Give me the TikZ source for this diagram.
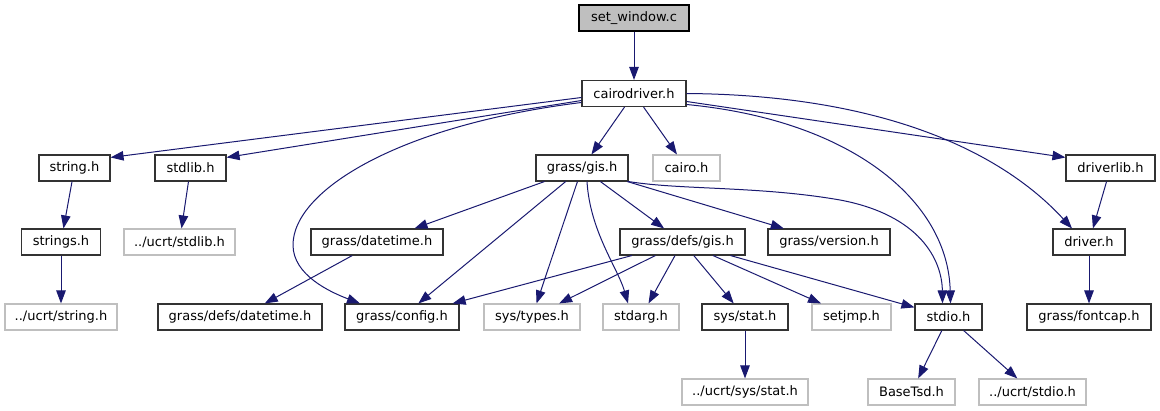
\documentclass[tikz,border=0pt]{standalone}
\usepackage{fontspec}
\setmainfont{DejaVu Sans}
\usepackage{tikz}
\usetikzlibrary{arrows.meta, positioning, calc}
\definecolor{edgeblue}{HTML}{191970}
\definecolor{sysgray}{HTML}{BFBFBF}
\tikzset{
  header/.style = {draw=black!80, line width=1.1pt, fill=white, inner sep=0pt,
                   minimum height=26pt, font=\fontsize{13}{15}\selectfont},
  extheader/.style = {header, draw=sysgray},
  srcfile/.style = {header, draw=black, fill=sysgray},
  dep/.style = {draw=edgeblue, line width=1pt, -{Triangle[length=13pt, width=9.5pt]}, edgeblue}
}

\begin{document}
\begin{tikzpicture}[x=1pt, y=-1pt]

\useasboundingbox (0, 0) rectangle (1160, 411);

% Top
\node [srcfile, minimum width=110] (win) at (634, 18) {set\_window.c};
\node [header, minimum width=104] (cdrv) at (634, 93.5) {cairodriver.h};

% Row 3
\node [header, minimum width=71] (str) at (74.5, 168) {string.h};
\node [header, minimum width=71] (stdl) at (190.5, 168) {stdlib.h};
\node [header, minimum width=92] (gis) at (582, 168) {grass/gis.h};
\node [extheader, minimum width=67] (cairo) at (686.5, 168) {cairo.h};
\node [header, minimum width=89] (dlib) at (1110.5, 168) {driverlib.h};

% Row 4
\node [header, minimum width=79] (strs) at (61, 242) {strings.h};
\node [extheader, minimum width=111] (ustdl) at (179.5, 242) {../ucrt/stdlib.h};
\node [header, minimum width=132] (dt) at (377, 242) {grass/datetime.h};
\node [header, minimum width=125] (dgis) at (682.5, 242) {grass/defs/gis.h};
\node [header, minimum width=122] (ver) at (829, 242) {grass/version.h};
\node [header, minimum width=72] (drv) at (1089, 242) {driver.h};

% Row 5
\node [extheader, minimum width=112] (ustr) at (61, 317) {../ucrt/string.h};
\node [header, minimum width=164] (ddt) at (240, 317) {grass/defs/datetime.h};
\node [header, minimum width=114] (cfg) at (402, 317) {grass/config.h};
\node [extheader, minimum width=96] (typ) at (532, 317) {sys/types.h};
\node [extheader, minimum width=76] (sarg) at (641, 317) {stdarg.h};
\node [header, minimum width=86] (stat) at (745, 317) {sys/stat.h};
\node [extheader, minimum width=79] (sjmp) at (851.5, 317) {setjmp.h};
\node [header, minimum width=67] (stdio) at (948.5, 317) {stdio.h};
\node [header, minimum width=124] (fcap) at (1089, 317) {grass/fontcap.h};

% Row 6
\node [extheader, minimum width=126] (ustat) at (745, 392) {../ucrt/sys/stat.h};
\node [extheader, minimum width=87] (bts) at (911.5, 392) {BaseTsd.h};
\node [extheader, minimum width=107] (ustdio) at (1032.5, 392) {../ucrt/stdio.h};

% Includes of set_window.c and cairodriver.h
\draw [dep] (win) -- (cdrv);
\draw [dep] ([yshift=-4]cdrv.west) -- ([yshift=-3]str.north east);
\draw [dep] ([yshift=-7]cdrv.west) -- ([yshift=-3]stdl.north east);
\draw [dep] (cdrv) -- (gis);
\draw [dep] (cdrv) -- (cairo);
\draw [dep] ([yshift=-8]cdrv.east) -- ([yshift=-3]dlib.north west);
\draw [dep] ([yshift=-9]cdrv.west) .. controls (400, 125) and (293, 190) .. (293, 245)
  .. controls (293, 275) and (330, 292) .. ([xshift=-42]cfg.north);
\draw [dep] ([yshift=-11]cdrv.east) .. controls (850, 120) and (948, 200) .. ([xshift=2]stdio.north);
\draw [dep] (cdrv.east) .. controls (880, 95) and (1000, 150) .. ([xshift=-17]drv.north);

% Left column
\draw [dep] (str) -- (strs);
\draw [dep] (strs) -- (ustr);
\draw [dep] (stdl) -- (ustdl);

% grass/gis.h
\draw [dep] (gis) -- (dt);
\draw [dep] (gis) -- (cfg);
\draw [dep] (gis) -- (typ);
\draw [dep] ([xshift=5]gis.south) .. controls +(3, 50) and +(-10, -35) .. ([xshift=-13]sarg.north);
\draw [dep] (gis) -- (dgis);
\draw [dep] (gis) -- (ver);
\draw [dep] (gis.south east) .. controls (680, 190) and (760, 186) .. (840, 200)
  .. controls (920, 215) and (942, 260) .. ([xshift=-6]stdio.north);
\draw [dep] (dt) -- (ddt);

% grass/defs/gis.h
\draw [dep] (dgis) -- (cfg);
\draw [dep] (dgis) -- (typ);
\draw [dep] (dgis) -- (sarg);
\draw [dep] (dgis) -- (stat);
\draw [dep] (dgis) -- (sjmp);
\draw [dep] (dgis) -- (stdio);
\draw [dep] (stat) -- (ustat);

% stdio.h and the driver
\draw [dep] (stdio) -- (bts);
\draw [dep] (stdio) -- (ustdio);
\draw [dep] (dlib) -- (drv);
\draw [dep] (drv) -- (fcap);

\end{tikzpicture}
\end{document}
